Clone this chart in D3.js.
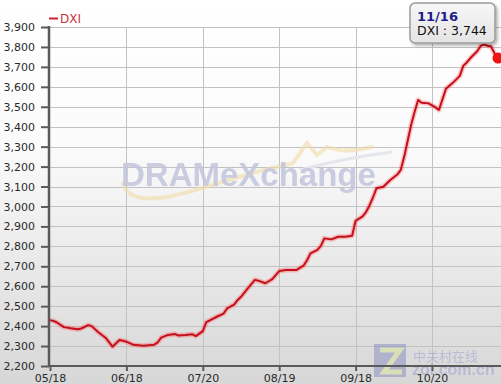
<!DOCTYPE html>
<html><head><meta charset="utf-8">
<script src="https://cdn.jsdelivr.net/npm/d3@7"></script>
<style>html,body{margin:0;padding:0;background:#fff;overflow:hidden}</style>
</head><body>
<svg id="chart" width="501" height="384"></svg>
<script>
// ---- data ----
const seriesName = "DXI";
// trading-day position of each reading, and the DXI value there
const dayIdx = [0,1,2,4,6,8,9,11,12,14,16,18,20,21,22,24,27,29,30,31,32,34,36,37,39,41,42,44,45,47,48,50,51,53,54,55,57,59,60,62,64,65,66,68,71,73,74,75,77,78,79,81,83,85,87,88,90,91,92,93,94,96,98,100,101,102,103,104,105,106,107,109,111,112,114,116,118,119,120,121,123,124,125,126,127,128,129];
const dxi    = [2430,2426,2418,2395,2389,2384,2388,2405,2400,2368,2342,2297,2330,2327,2322,2306,2302,2305,2307,2318,2342,2356,2360,2353,2355,2359,2350,2375,2420,2438,2447,2463,2489,2508,2530,2547,2590,2632,2628,2615,2636,2656,2676,2681,2682,2703,2730,2765,2782,2802,2840,2835,2848,2848,2853,2928,2950,2972,3005,3045,3091,3099,3133,3160,3183,3250,3330,3410,3475,3534,3520,3517,3497,3484,3590,3620,3655,3705,3722,3743,3778,3805,3812,3806,3802,3768,3744];
const tickLabels = ["05/18","06/18","07/20","08/19","09/18","10/20"];
const tickIdx    = [0,22,44,66,88,110];
const yTicks = d3.range(2200, 3901, 100);
const lastLabel = "11/16";

const svg = d3.select("#chart");
const W = 501, H = 384;
const defs = svg.append("defs");
const bg = defs.append("linearGradient").attr("id","bg").attr("x1",0).attr("y1",0).attr("x2",0).attr("y2",1);
bg.append("stop").attr("offset","0%").attr("stop-color","#ffffff");
bg.append("stop").attr("offset","38%").attr("stop-color","#fbfbfb");
bg.append("stop").attr("offset","100%").attr("stop-color","#d7d7d7");
const tg = defs.append("linearGradient").attr("id","tip").attr("x1",0).attr("y1",0).attr("x2",0).attr("y2",1);
tg.append("stop").attr("offset","0%").attr("stop-color","#f7f7f7");
tg.append("stop").attr("offset","100%").attr("stop-color","#e4e4e4");
const sh = defs.append("filter").attr("id","shadow").attr("x","-20%").attr("y","-20%").attr("width","150%").attr("height","160%");
sh.append("feDropShadow").attr("dx",2).attr("dy",2).attr("stdDeviation",1.5).attr("flood-color","#000").attr("flood-opacity",0.3);

svg.append("rect").attr("width",W).attr("height",H).attr("fill","url(#bg)");

const x = d3.scaleLinear().domain([0,129]).range([50,498]);
const y = d3.scaleLinear().domain([2200,3900]).range([366,27]);

// grid
svg.append("g").selectAll("line").data(yTicks.slice(1)).join("line")
  .attr("x1",49).attr("x2",W).attr("y1",d=>Math.round(y(d))+0.5).attr("y2",d=>Math.round(y(d))+0.5)
  .attr("stroke","#c2c2c2").attr("stroke-width",1);
svg.append("g").selectAll("line").data(tickIdx.slice(1)).join("line")
  .attr("x1",d=>Math.round(x(d))+0.5).attr("x2",d=>Math.round(x(d))+0.5).attr("y1",27).attr("y2",366)
  .attr("stroke","#c2c2c2").attr("stroke-width",1);

// watermark DRAMeXchange
const wm = svg.append("g");
wm.append("path").attr("d","M123,183 C126,196 138,200 160,198 C190,194 225,180 260,171 C275,167 285,166 293,163 L307,143 L317,155 L327,147 C335,150 345,153 372,147")
  .attr("fill","none").attr("stroke","#f2dca8").attr("stroke-opacity",0.6).attr("stroke-width",4).attr("stroke-linecap","round");
wm.append("path").attr("d","M300,170 C330,162 360,156 392,152")
  .attr("fill","none").attr("stroke","#e4e6ee").attr("stroke-width",3);
wm.append("text").attr("x",121).attr("y",186).text("DRAMeXchange")
  .attr("font-family","Liberation Sans, Arial, sans-serif").attr("font-weight","bold").attr("font-size",33)
  .attr("fill","#c2c5dc").attr("opacity",0.85);

// zol watermark
const zl = svg.append("g").attr("opacity",0.55);
zl.append("rect").attr("x",374).attr("y",344).attr("width",32).attr("height",33).attr("fill","#8e93c4");
zl.append("path").attr("d","M380,350 L400,350 L384,372 L402,372").attr("fill","none").attr("stroke","#d8e39a").attr("stroke-width",5);
zl.append("text").attr("x",413).attr("y",361).text("中关村在线")
  .attr("font-family","Noto Sans CJK SC, sans-serif").attr("font-size",13).attr("fill","#9aa3cf");
zl.append("text").attr("x",412).attr("y",375).text("zol.com.cn")
  .attr("font-family","Liberation Sans, Arial, sans-serif").attr("font-weight","bold").attr("font-size",16).attr("fill","#9aa3cf");

// line
const line = d3.line().x((d,i)=>x(dayIdx[i])).y(d=>y(d)).curve(d3.curveLinear);
svg.append("path").datum(dxi).attr("d",line).attr("fill","none")
  .attr("stroke","#ff5a5a").attr("stroke-opacity",0.35).attr("stroke-width",5).attr("stroke-linejoin","round");
svg.append("path").datum(dxi).attr("d",line).attr("fill","none")
  .attr("stroke","#c4101c").attr("stroke-width",2).attr("stroke-linejoin","round");

// axes
const yAxis = svg.append("g").attr("transform","translate(49,0)")
  .call(d3.axisLeft(y).tickValues(yTicks).tickFormat(d3.format(",")).tickSize(8).tickPadding(6));
yAxis.select(".domain").attr("stroke","#5a5a5a").attr("stroke-width",2.5).attr("d","M0,26V367");
yAxis.selectAll(".tick line").attr("stroke","#5a5a5a").attr("stroke-width",2);
yAxis.selectAll("text").attr("font-family","DejaVu Sans, Verdana, sans-serif").attr("font-size",11).attr("fill","#2a2a2a");

const xAxis = svg.append("g").attr("transform","translate(0,366)")
  .call(d3.axisBottom(x).tickValues(tickIdx).tickFormat((d,i)=>tickLabels[i]).tickSize(5).tickPadding(3));
xAxis.select(".domain").attr("stroke","#5a5a5a").attr("stroke-width",2).attr("d","M48,0H501");
xAxis.selectAll(".tick line").attr("stroke","#5a5a5a").attr("stroke-width",2);
xAxis.selectAll("text").attr("font-family","DejaVu Sans, Verdana, sans-serif").attr("font-size",11).attr("fill","#2a2a2a");

// legend
svg.append("line").attr("x1",49).attr("x2",58).attr("y1",18.5).attr("y2",18.5).attr("stroke","#cc2233").attr("stroke-width",2);
svg.append("text").attr("x",60).attr("y",23).text(seriesName)
  .attr("font-family","DejaVu Sans, Verdana, sans-serif").attr("font-size",12).attr("fill","#c8343f");

// last point marker
const li = dxi.length-1;
svg.append("circle").attr("cx",x(dayIdx[li])).attr("cy",y(dxi[li])).attr("r",5.5).attr("fill","#ee1515");

// tooltip
const tip = svg.append("g");
tip.append("rect").attr("x",410).attr("y",3).attr("width",85).attr("height",40).attr("rx",5)
  .attr("fill","url(#tip)").attr("stroke","#9a9a9a").attr("stroke-width",1.5).attr("filter","url(#shadow)");
tip.append("text").attr("x",417).attr("y",21).text(lastLabel)
  .attr("font-family","DejaVu Sans, Verdana, sans-serif").attr("font-weight","bold").attr("font-size",13).attr("fill","#1c1c8a");
tip.append("text").attr("x",417).attr("y",35).text(seriesName + " : " + d3.format(",")(dxi[li]))
  .attr("font-family","DejaVu Sans, Verdana, sans-serif").attr("font-size",12.5).attr("fill","#111");
</script>
</body></html>
